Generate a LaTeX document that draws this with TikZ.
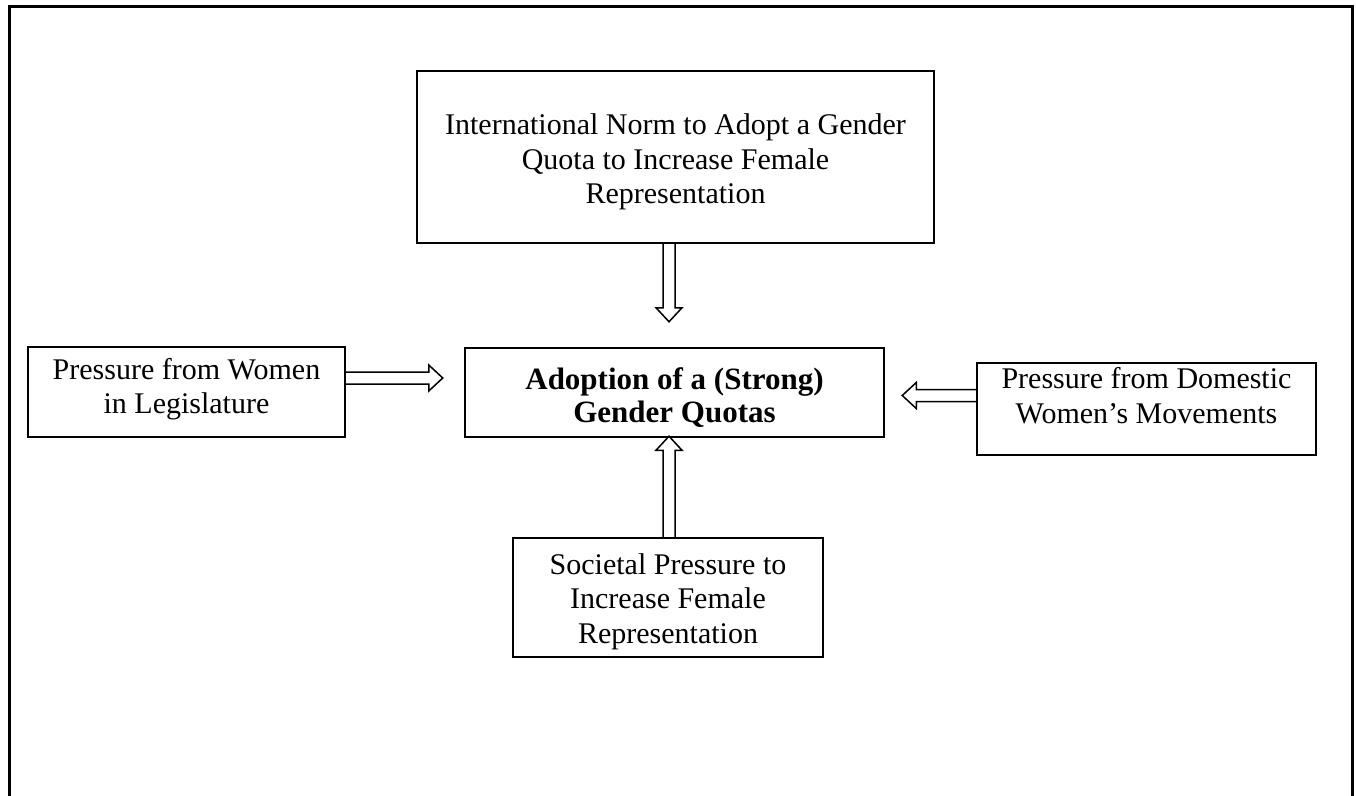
\documentclass[tikz,border=0pt]{standalone}
\usepackage{fontspec}
\setmainfont{Liberation Serif}
\usetikzlibrary{calc}
\tikzset{
  frame/.style={draw=black, line width=3pt},
  box/.style={draw=black, line width=1.5pt, inner sep=0pt},
  txt/.style={inner sep=0pt, align=center, font=\fontsize{30}{34.5}\selectfont},
  boldtxt/.style={txt, font=\fontsize{31}{33}\selectfont\bfseries},
  hollow/.style={draw=black, line width=1.5pt, line join=miter},
}
% hollow block arrow: start, direction, length
\newcommand{\hollowarrow}[3]{%
  \draw[hollow, shift={#1}, rotate=#2] (0,-6) -- ({#3-14},-6) -- ({#3-14},-13) -- (#3,0)
    -- ({#3-14},13) -- ({#3-14},6) -- (0,6);}

\begin{document}
\begin{tikzpicture}[x=1pt,y=-1pt] % y runs downwards
  \useasboundingbox (0,0) rectangle (1356,795);
  \draw[frame] (9,800) -- (9,6) -- (1352,6) -- (1352,800);

  % boxes
  \node[box, minimum width=517, minimum height=172] (norm) at (675.5,157) {};
  \node[box, minimum width=419, minimum height=89] (quota) at (674.5,392.5) {};
  \node[box, minimum width=317, minimum height=90] (leg) at (186.5,392) {};
  \node[box, minimum width=339, minimum height=92] (dom) at (1146.5,409) {};
  \node[box, minimum width=310, minimum height=119] (soc) at (668,597.5) {};

  % texts
  \node[txt] (normtxt) at ($(norm)+(0,5)$)
    {International Norm to Adopt a Gender\\Quota to Increase Female\\Representation};
  \node[boldtxt] (quotatxt) at ($(quota)+(0,5)$)
    {Adoption of a (Strong)\\Gender Quotas};
  \node[txt] (legtxt) at ($(leg)+(0,-3)$)
    {Pressure from Women\\in Legislature};
  \node[txt, anchor=north] (domtxt) at ($(dom.north)+(0,5)$)
    {Pressure from Domestic\\Women’s Movements};
  \node[txt] (soctxt) at ($(soc)+(0,4)$)
    {Societal Pressure to\\Increase Female\\Representation};

  % arrows
  \coordinate (a1) at ($(norm.south)+(-6.5,0)$);
  \coordinate (a2) at ($(leg.east)+(0,-14)$);
  \coordinate (a3) at ($(dom.west)+(0,-13.5)$);
  \coordinate (a4) at ($(soc.north)+(1,0)$);
  \hollowarrow{(a1)}{-90}{78}
  \hollowarrow{(a2)}{0}{97}
  \hollowarrow{(a3)}{180}{74}
  \hollowarrow{(a4)}{90}{101}
\end{tikzpicture}
\end{document}
